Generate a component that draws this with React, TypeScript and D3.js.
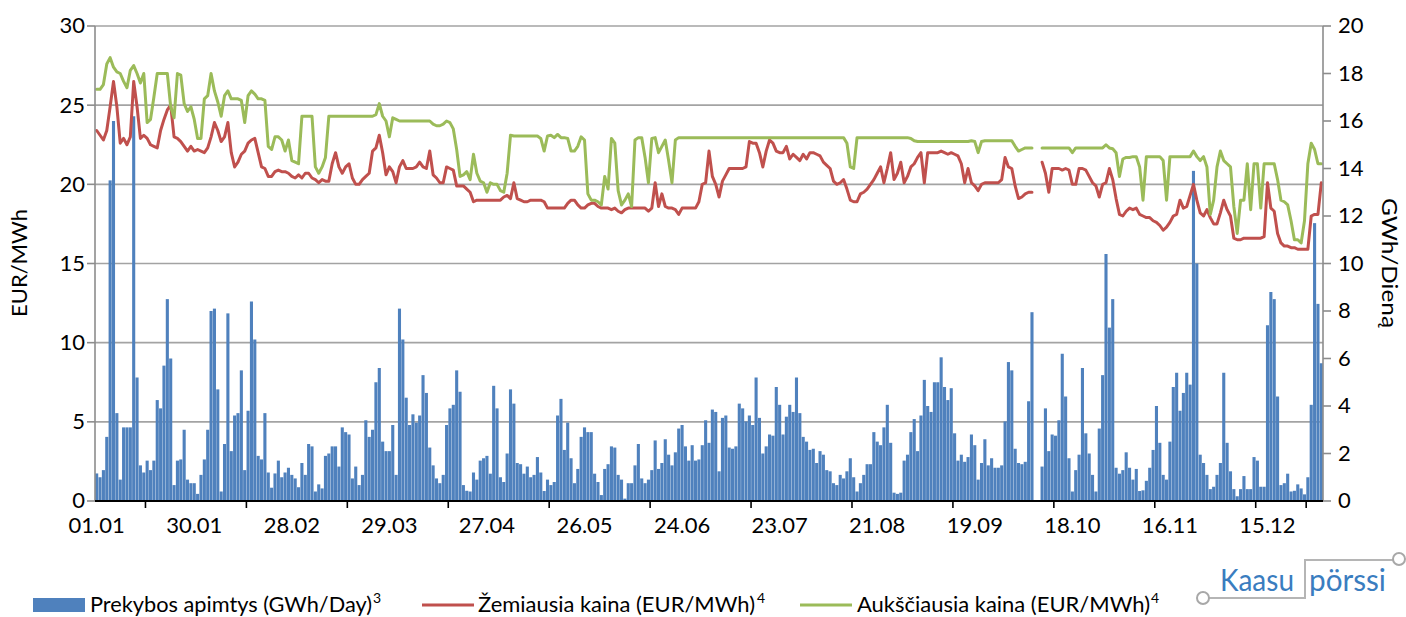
import React from "react";
import * as d3 from "d3";

// Daily trading volume (GWh/day), 365 days
const volume: (number | null)[] = [
  1.16,1.0,1.3,2.7,13.5,16.0,3.7,0.9,3.1,3.1, 3.1,16.2,5.2,1.5,1.2,1.7,1.3,1.7,4.25,3.9,
  5.7,8.5,6.0,0.67,1.7,1.75,3.0,0.9,0.75,0.75, 0.3,1.1,1.75,3.0,8.0,8.1,4.7,
  0.4,2.4,7.9,2.1,3.6,3.7,5.5,1.3,3.8,8.4, 6.8,1.9,1.75,3.7,1.2,0.56,1.16,1.7,1.0,1.2,
  1.4,1.1,0.95,0.58,1.6,1.1,2.4,2.3,0.4,0.7, 0.53,1.9,2.0,2.3,2.3,1.45,3.1,2.9,
  2.8,0.95,1.45,0.67,1.1,3.4,2.7,3.0,5.0,5.6, 2.5,2.1,2.1,3.2,1.1,8.1,6.8,4.35,3.2,3.65,
  3.3,3.6,5.3,4.55,2.25,1.5,0.95,0.75,1.1,3.2, 3.9,4.05,5.5,4.6,0.67,0.43,0.4,
  1.2,0.9,1.7,1.8,1.9,1.15,4.85,3.9,1.0,0.8, 2.0,4.7,4.1,1.6,1.55,1.15,1.45,1.0,1.1,1.85,
  1.2,0.42,0.9,0.67,0.8,3.6,4.3,2.15,3.3,1.8, 0.75,1.35,2.7,3.1,2.9,2.9,1.15,
  0.8,0.25,1.35,1.55,2.3,2.25,1.1,0.9,0.1,0.75, 0.75,1.5,2.4,0.95,0.75,0.9,1.3,2.55,1.35,1.6,
  2.6,1.95,1.5,2.05,3.05,3.2,2.3,1.7,2.35,1.7, 1.75,2.35,3.4,2.45,3.85,3.75,1.25,
  3.5,3.6,2.25,2.2,2.3,4.1,3.9,3.35,3.6,3.2, 5.2,3.5,2.0,2.3,2.8,2.75,4.8,4.05,2.8,3.55,
  4.05,3.75,5.2,3.7,2.7,2.5,2.15,2.2,1.6,2.1, 1.95,1.3,1.25,0.75,0.67,1.1,0.95,
  1.25,1.8,1.0,0.4,0.75,1.1,1.55,1.55,2.9,2.5, 2.35,3.1,4.05,2.45,0.35,0.3,0.35,1.7,1.95,2.9,
  3.45,2.1,3.6,5.1,4.0,3.75,5.0,5.0,6.05,4.8, 4.25,4.75,2.85,1.7,1.95,1.65,1.85,
  2.8,2.35,0.9,1.6,2.6,1.5,1.8,1.4,1.4,1.5, 3.35,5.85,5.5,2.2,1.6,1.55,1.65,4.2,7.95,null,
  null,1.45,3.9,2.1,2.8,2.75,3.4,6.2,4.4,1.8, 0.4,1.3,1.95,5.6,2.85,2.0,1.1,0.4,
  3.05,5.3,10.4,7.3,8.5,1.4,1.15,1.3,2.05,1.4, 0.9,1.35,0.42,0.45,0.85,1.4,2.15,4.0,2.45,1.1,
  0.9,2.5,4.8,5.4,3.8,4.55,5.4,4.9,13.9,10.0, 1.95,1.6,
  1.1,0.5,0.6,1.1,1.6,5.4,2.45,1.25,0.5,0.2, 0.5,1.05,0.5,0.5,1.85,1.7,0.6,0.6,7.4,8.8,
  8.5,4.4,0.67,0.75,1.15,0.4,0.43,0.7,0.53,0.28, 1.0,4.05,11.7,8.3,5.8,
];

// Lowest price (EUR/MWh)
const lowPrice: (number | null)[] = [
  23.4,23.1,22.8,23.4,24.9,26.5,24.9,22.6,22.9,22.5, 23.0,26.5,24.9,22.9,23.1,22.9,22.5,22.4,22.3,23.4,
  24.1,24.7,25.0,23.0,22.9,22.7,22.4,22.1,22.4,22.1, 22.2,22.1,22.0,22.3,23.0,23.9,23.4,
  22.7,23.0,23.9,22.0,21.1,21.4,21.9,22.1,22.6,22.8, 22.9,22.0,21.1,21.0,20.5,20.5,20.8,20.9,20.8,20.8,
  20.7,20.5,20.4,20.6,20.4,20.7,20.7,20.4,20.3,20.1, 20.3,20.2,20.2,21.3,22.0,21.1,20.7,21.1,
  21.3,20.4,20.0,20.0,20.3,20.5,20.7,22.1,22.3,23.1, 22.0,20.6,21.1,20.8,20.1,21.1,21.5,21.0,21.0,21.0,
  21.1,21.4,21.1,21.0,22.1,20.6,20.4,20.1,20.1,21.1, 21.0,20.9,19.9,19.9,19.9,19.7,19.5,
  18.9,19.0,19.0,19.0,19.0,19.0,19.0,19.0,19.0,19.2, 19.3,19.1,20.1,19.1,19.0,18.9,18.9,19.0,19.0,19.0,
  19.0,18.9,18.5,18.5,18.5,18.5,18.5,18.5,18.8,19.0, 19.0,18.7,18.5,18.5,18.7,18.8,18.8,
  18.6,18.5,18.5,18.5,18.4,18.5,18.3,18.2,18.4,18.5, 18.5,18.5,18.5,18.5,18.5,18.3,18.5,20.1,18.6,19.4,
  18.6,18.5,18.5,18.4,18.1,18.5,18.5,18.5,18.5,18.5, 18.9,20.0,20.1,22.1,20.5,20.0,19.2,
  20.2,20.6,21.0,21.0,21.0,21.0,21.0,21.1,22.7,22.6, 22.6,22.0,21.1,22.1,22.8,22.6,22.1,22.0,22.0,22.4,
  21.6,21.9,21.7,21.5,21.9,21.6,22.0,22.0,21.9,21.8, 21.4,21.2,21.0,20.2,20.0,20.1,20.3,
  19.7,19.0,18.9,18.9,19.4,19.5,19.7,20.0,20.3,20.7, 21.1,20.1,21.0,22.0,20.3,20.7,21.4,20.1,20.5,21.1,
  21.3,21.7,22.0,20.1,22.0,22.0,22.0,22.0,22.1,22.0, 21.9,22.0,21.9,21.8,21.3,20.1,21.0,
  20.1,19.9,19.6,20.0,20.1,20.1,20.1,20.1,20.1,20.3, 21.7,21.1,21.0,19.9,19.1,19.2,19.4,19.5,19.5,null,
  null,21.4,20.7,19.5,21.0,21.0,21.0,20.9,21.0,20.9, 20.0,20.0,21.0,21.0,20.9,20.5,20.1,19.9,
  19.2,20.0,20.1,21.0,20.3,19.1,18.1,18.0,18.3,18.5, 18.4,18.5,18.1,18.0,17.9,17.9,17.7,17.6,17.4,17.1,
  17.3,17.6,18.0,18.1,19.0,18.5,18.6,19.3,20.0,19.0, 18.2,18.0,
  18.4,17.9,17.5,17.5,18.2,19.0,18.4,18.0,16.6,16.5, 16.5,16.6,16.6,16.6,16.6,16.6,16.6,16.7,20.1,18.5,
  18.3,16.9,16.3,16.1,16.1,16.0,16.0,15.9,15.9,15.9, 15.9,18.0,18.1,18.1,20.1,
];

// Highest price (EUR/MWh)
const highPrice: (number | null)[] = [
  26.0,26.0,26.3,27.6,28.0,27.4,27.1,27.0,26.5,26.1, 27.2,27.5,27.0,26.4,27.0,23.9,24.1,25.5,27.0,27.0,
  27.0,27.0,24.9,24.2,27.0,26.9,25.1,24.6,24.9,24.1, 22.9,22.9,25.4,25.6,27.0,25.9,25.2,
  24.3,25.6,25.9,25.4,25.4,25.4,25.3,23.9,25.6,25.9, 25.7,25.4,25.4,25.3,22.4,22.2,23.0,23.0,22.8,22.1,
  22.8,21.5,21.4,21.3,24.3,24.3,24.3,24.3,21.1,20.7, 21.1,21.7,24.3,24.3,24.3,24.3,24.3,24.3,
  24.3,24.3,24.3,24.3,24.3,24.3,24.3,24.3,24.4,25.1, 24.3,24.0,23.0,24.2,24.1,24.0,24.0,24.0,24.0,24.0,
  24.0,24.0,24.0,24.0,24.0,23.8,23.7,23.7,23.8,24.0, 23.9,23.5,22.2,20.5,20.6,20.8,20.3,
  21.9,20.7,20.2,20.1,19.5,20.1,20.0,20.0,19.6,19.5, 20.7,23.1,23.05,23.05,23.05,23.05,23.05,23.05,23.05,23.05,
  22.9,22.1,23.05,23.1,22.95,23.15,22.95,22.95,22.9,22.1, 22.1,22.4,23.0,22.8,19.4,19.0,19.0,
  18.9,18.7,20.5,19.7,22.9,22.6,19.6,18.7,19.0,19.4, 18.6,22.8,22.95,22.95,21.7,20.1,22.9,22.95,22.0,22.4,
  22.8,21.5,20.1,22.8,22.95,22.95,22.95,22.95,22.95,22.95, 22.95,22.95,22.95,22.95,22.95,22.95,22.95,
  22.95,22.95,22.95,22.95,22.95,22.95,22.95,22.95,22.95,22.95, 22.95,22.95,22.95,22.95,22.95,22.95,22.95,22.95,22.95,22.95,
  22.95,22.95,22.95,22.95,22.95,22.95,22.95,22.95,22.95,22.95, 22.95,22.95,22.95,22.95,22.95,22.95,22.95,
  22.6,21.1,21.0,22.95,22.95,22.95,22.95,22.95,22.95,22.95, 22.95,22.95,22.95,22.95,22.95,22.95,22.95,22.95,22.95,22.9,
  22.75,22.7,22.7,22.7,22.7,22.7,22.7,22.7,22.7,22.7, 22.7,22.7,22.7,22.7,22.7,22.7,22.7,
  22.75,22.7,22.0,22.7,22.75,22.75,22.75,22.75,22.75,22.75, 22.75,22.75,22.75,22.4,22.1,22.2,22.3,22.3,22.3,null,
  null,22.3,22.3,22.3,22.3,22.3,22.3,22.3,22.3,22.3, 22.0,22.3,22.3,22.3,22.3,22.3,22.3,22.3,
  22.3,22.3,22.5,22.3,22.25,22.0,20.5,21.6,21.7,21.7, 21.75,21.75,21.1,19.0,21.75,21.75,21.75,21.75,21.75,21.5,
  19.0,21.75,21.75,21.75,21.75,21.75,21.75,21.75,22.1,21.75, 21.5,21.75,
  21.1,18.1,19.0,21.1,22.1,21.5,21.3,21.1,18.6,16.9, 19.0,19.0,21.3,18.4,21.3,21.3,18.5,21.3,21.3,21.3,
  21.3,20.3,19.0,18.9,18.7,17.7,16.5,16.5,16.3,17.7, 21.3,22.6,22.2,21.3,21.3,
];

const xLabels = ["01.01","30.01","28.02","29.03","27.04","26.05","24.06","23.07","21.08","19.09","18.10","16.11","15.12"];
const xLabelStep = 29;
const xTickBoundaries = [15,45,75,105,135,165,195,225,255,285,315,345,360];
const leftTicks = [0,5,10,15,20,25,30];
const rightTicks = [0,2,4,6,8,10,12,14,16,18,20];

const BLUE = "#4f81bd";
const RED = "#c0504d";
const GREEN = "#9bbb59";
const FONT = "Lato, 'Open Sans', sans-serif";

export default function App() {
  const W = 1406, H = 617;
  const left = 95, right = 1323, top = 26, bottom = 501;
  const n = volume.length;
  const idx = d3.range(n);
  const x = d3.scaleBand<number>().domain(idx).range([left, right]).paddingInner(0.08).paddingOuter(0.04);
  const step = x.step();
  const cx = (i: number) => (x(i) as number) + x.bandwidth() / 2;
  const yL = d3.scaleLinear().domain([0, 30]).range([bottom, top]);
  const yR = d3.scaleLinear().domain([0, 20]).range([bottom, top]);

  const line = d3.line<number | null>()
    .defined((d) => d !== null)
    .x((_, i) => cx(i))
    .y((d) => yL(d as number));

  const boundaryX = (b: number) => left + b * step;

  return (
    <svg width={W} height={H} style={{ position: "absolute", left: 0, top: 0, fontFamily: FONT }}>
      <rect x={0} y={0} width={W} height={H} fill="#fff" />
      {/* gridlines */}
      {leftTicks.filter((t) => t > 0).map((t) => (
        <line key={"g" + t} x1={left} x2={right} y1={yL(t)} y2={yL(t)} stroke="#a3a3a3" strokeWidth={1.6} />
      ))}
      {/* bars */}
      {volume.map((v, i) =>
        v === null ? null : (
          <rect key={"b" + i} x={x(i)} width={x.bandwidth()} y={yR(v)} height={bottom - yR(v)} fill={BLUE} />
        )
      )}
      {/* lines */}
      <path d={line(lowPrice) || ""} fill="none" stroke={RED} strokeWidth={3} strokeLinejoin="round" strokeLinecap="round" />
      <path d={line(highPrice) || ""} fill="none" stroke={GREEN} strokeWidth={3} strokeLinejoin="round" strokeLinecap="round" />

      {/* left axis */}
      <line x1={left} x2={left} y1={top} y2={bottom} stroke="#8c8c8c" strokeWidth={1.6} />
      {leftTicks.map((t) => (
        <g key={"lt" + t}>
          <line x1={left - 8} x2={left} y1={yL(t)} y2={yL(t)} stroke="#8c8c8c" strokeWidth={1.6} />
          <text x={85} y={yL(t)} dy="0.34em" textAnchor="end" fontSize={22} fill="#000">{t}</text>
        </g>
      ))}
      {/* right axis */}
      <line x1={right} x2={right} y1={top} y2={bottom} stroke="#8c8c8c" strokeWidth={1.6} />
      {rightTicks.map((t) => (
        <g key={"rt" + t}>
          <line x1={right} x2={right + 8} y1={yR(t)} y2={yR(t)} stroke="#8c8c8c" strokeWidth={1.6} />
          <text x={1338} y={yR(t)} dy="0.34em" textAnchor="start" fontSize={22} fill="#000">{t}</text>
        </g>
      ))}
      {/* bottom axis */}
      <line x1={left} x2={right} y1={bottom} y2={bottom} stroke="#000" strokeWidth={1.8} />
      {xTickBoundaries.map((b) => (
        <line key={"xt" + b} x1={boundaryX(b)} x2={boundaryX(b)} y1={bottom} y2={bottom + 7} stroke="#000" strokeWidth={1.6} />
      ))}
      {xLabels.map((l, k) => (
        <text key={"xl" + k} x={cx(k * xLabelStep)} y={533} textAnchor="middle" fontSize={22} fill="#000">{l}</text>
      ))}

      {/* axis titles */}
      <text transform={`translate(27,263) rotate(-90)`} textAnchor="middle" fontSize={22} fill="#000">EUR/MWh</text>
      <text transform={`translate(1382,263) rotate(90)`} textAnchor="middle" fontSize={22} fill="#000" textLength={130} lengthAdjust="spacingAndGlyphs">GWh/Dieną</text>

      {/* legend */}
      <rect x={33} y={598} width={52} height={14} fill={BLUE} />
      <text x={90} y={612} fontSize={21} textLength={282} lengthAdjust="spacingAndGlyphs">Prekybos apimtys (GWh/Day)</text>
      <text x={373} y={603} fontSize={14}>3</text>
      <line x1={422} x2={474} y1={605} y2={605} stroke={RED} strokeWidth={3} />
      <text x={478} y={612} fontSize={21} textLength={277} lengthAdjust="spacingAndGlyphs">Žemiausia kaina (EUR/MWh)</text>
      <text x={757} y={603} fontSize={14}>4</text>
      <line x1={800} x2={852} y1={605} y2={605} stroke={GREEN} strokeWidth={3} />
      <text x={857} y={612} fontSize={21} textLength={293} lengthAdjust="spacingAndGlyphs">Aukščiausia kaina (EUR/MWh)</text>
      <text x={1151} y={603} fontSize={14}>4</text>

      {/* logo */}
      <g>
        <polyline points="1209,598 1305,598 1305,560 1393,560" fill="none" stroke="#b5b5b5" strokeWidth={2} />
        <circle cx={1203} cy={598} r={6} fill="#fff" stroke="#a8a8a8" strokeWidth={2} />
        <circle cx={1399} cy={559} r={6} fill="#fff" stroke="#a8a8a8" strokeWidth={2} />
        <text x={1220} y={591} fontSize={31} fill="#3a7dbf" textLength={74} lengthAdjust="spacingAndGlyphs">Kaasu</text>
        <text x={1309} y={591} fontSize={31} fill="#3a7dbf" textLength={77} lengthAdjust="spacingAndGlyphs">pörssi</text>
      </g>
    </svg>
  );
}
